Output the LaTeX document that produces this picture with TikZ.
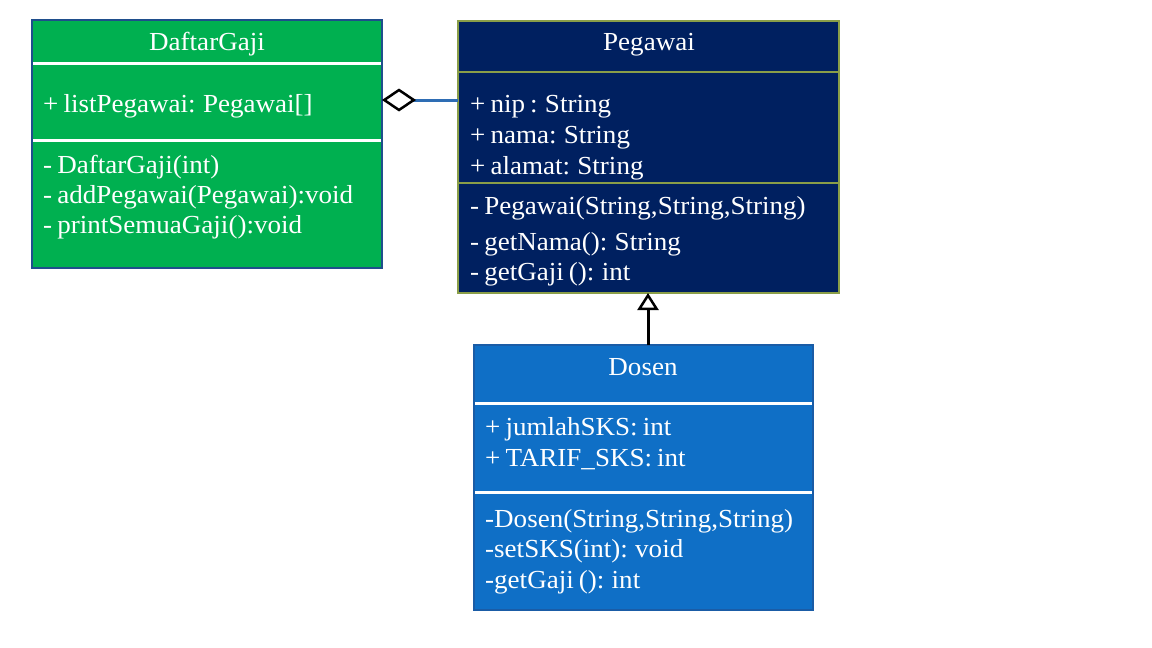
\documentclass[tikz,border=0pt]{standalone}
\usepackage{fontspec}
\setmainfont{Liberation Serif}[FakeStretch=1.04, WordSpace=0.75]
\usetikzlibrary{arrows.meta}

\definecolor{gajigreen}{HTML}{00B050}
\definecolor{gajiedge}{HTML}{1F4E8C}
\definecolor{pegnavy}{HTML}{002060}
\definecolor{pegedge}{HTML}{8A9E48}
\definecolor{dosenblue}{HTML}{0F6FC6}
\definecolor{dosenedge}{HTML}{1A5CA6}
\definecolor{aggblue}{HTML}{2E6DB4}

\tikzset{
  classbox/.style={draw, line width=2pt, inner sep=0pt, outer sep=0pt, anchor=north west},
  member/.style={anchor=base west, text=white, inner sep=0pt, font=\fontsize{26}{30}\selectfont},
  classname/.style={anchor=base, text=white, inner sep=0pt, font=\fontsize{26}{30}\selectfont},
  sepline/.style={white, line width=3pt},
}

\begin{document}
\begin{tikzpicture}[x=1pt, y=-1pt]
  \useasboundingbox (0,0) rectangle (1152,648);

  %-------------
  \node[classbox, draw=gajiedge, fill=gajigreen, minimum width=350, minimum height=248] (daftar) at (32,20) {};
  \draw[sepline] (33,63) -- (381,63);
  \draw[sepline] (33,140) -- (381,140);

  \node[classname] (daftarname) at (207,50) {DaftarGaji};
  \node[member] (daftarlist) at (43,112) {+ listPegawai: Pegawai[]};
  \node[member] (daftarctor) at (43,173) {- DaftarGaji(int)};
  \node[member] (daftaradd) at (43,203) {- addPegawai(Pegawai):void};
  \node[member] (daftarprint) at (43,233) {- printSemuaGaji():void};

  %-------------
  \node[classbox, draw=pegedge, fill=pegnavy, minimum width=381, minimum height=272] (pegawai) at (458,21) {};
  \draw[pegedge, line width=2.5pt] (459,72) -- (838,72);
  \draw[pegedge, line width=2.5pt] (459,183) -- (838,183);

  \node[classname] (pegname) at (649,50) {Pegawai};
  \node[member] (pegnip) at (470,112) {+ nip : String};
  \node[member] (pegnama) at (470,143) {+ nama: String};
  \node[member] (pegalamat) at (470,174) {+ alamat: String};
  \node[member] (pegctor) at (470,214) {- Pegawai(String,String,String)};
  \node[member] (peggetnama) at (470,250) {- getNama(): String};
  \node[member] (peggetgaji) at (470,280) {- getGaji (): int};

  %-------------
  \node[classbox, draw=dosenedge, fill=dosenblue, minimum width=339, minimum height=265] (dosen) at (474,345) {};
  \draw[sepline] (475,403) -- (812,403);
  \draw[sepline] (475,492) -- (812,492);

  \node[classname] (dosenname) at (643,375) {Dosen};
  \node[member] (dosensks) at (485,435) {+ jumlahSKS: int};
  \node[member] (dosentarif) at (485,466) {+ TARIF\_SKS: int};
  \node[member] (dosenctor) at (485,527) {-Dosen(String,String,String)};
  \node[member] (dosenset) at (485,557) {-setSKS(int): void};
  \node[member] (dosengaji) at (485,588) {-getGaji (): int};

  %-------------
  \coordinate (aggend) at (daftar.east |- 0,100);
  \draw[aggblue, line width=3pt, -{Diamond[open, color=black, line width=2.5pt, length=34pt, width=23pt]}]
    (pegawai.west |- 0,100) -- (aggend);

  \coordinate (inhbase) at (dosen.north -| 648,0);
  \draw[black, line width=3pt, -{Triangle[open, line width=2.5pt, length=17pt, width=21pt]}]
    (inhbase) -- (pegawai.south -| 648,0);

\end{tikzpicture}
\end{document}
